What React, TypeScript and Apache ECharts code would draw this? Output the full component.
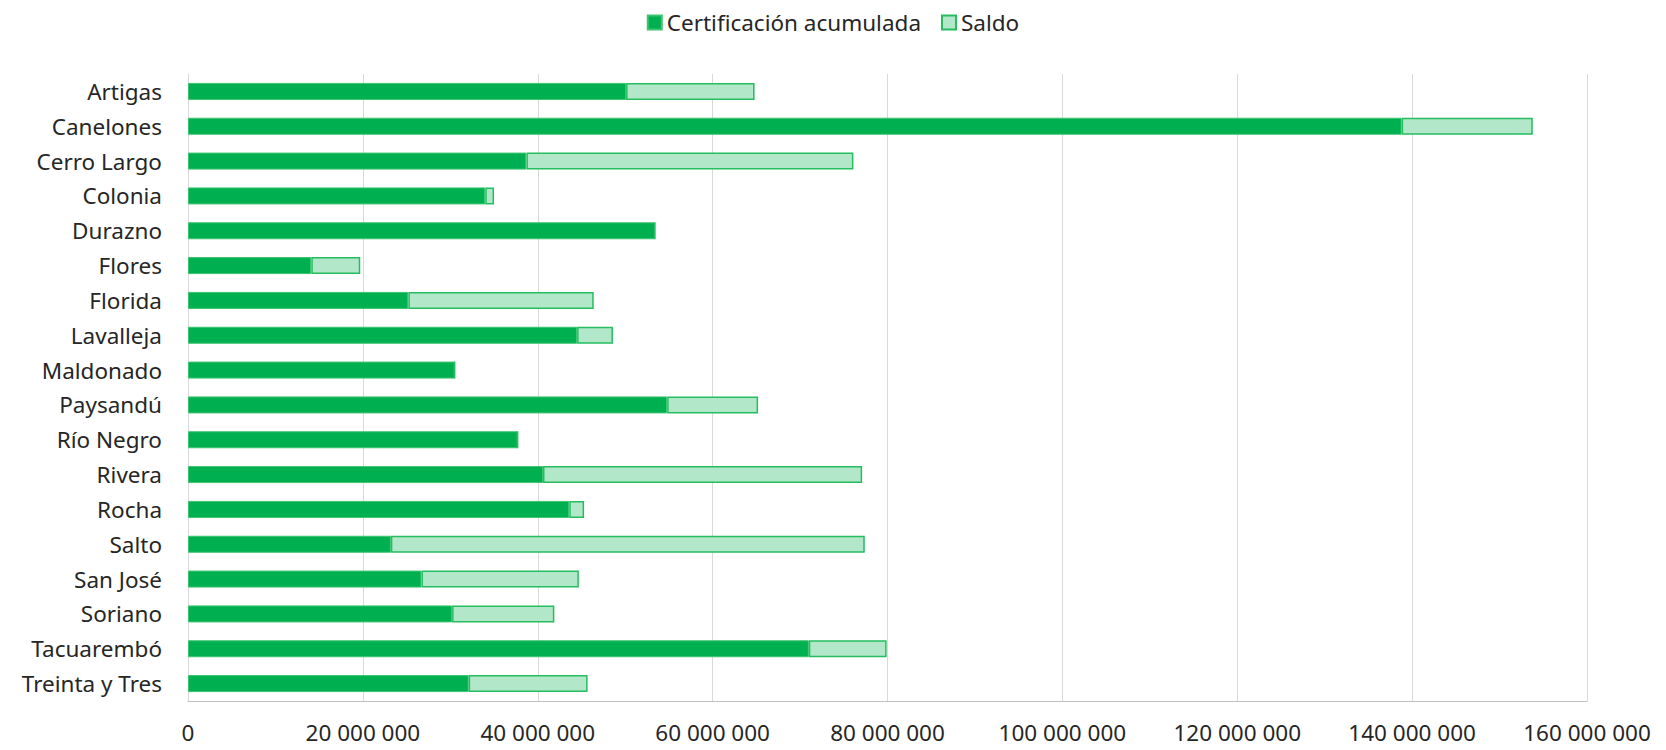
import React, { useEffect, useRef } from "react";
import * as echarts from "echarts";

const categories = [
  "Artigas", "Canelones", "Cerro Largo", "Colonia", "Durazno", "Flores", "Florida",
  "Lavalleja", "Maldonado", "Paysandú", "Río Negro", "Rivera", "Rocha", "Salto",
  "San José", "Soriano", "Tacuarembó", "Treinta y Tres",
];
const certificacion = [
  50100000, 138800000, 38700000, 34000000, 53400000, 14100000, 25200000,
  44500000, 30500000, 54800000, 37700000, 40600000, 43600000, 23200000,
  26700000, 30200000, 71000000, 32100000,
];
const saldo = [
  14700000, 15000000, 37400000, 1000000, 0, 5600000, 21200000,
  4100000, 0, 10400000, 0, 36500000, 1700000, 54200000,
  18000000, 11700000, 8900000, 13600000,
];
const xMax = 160000000;
const xInterval = 20000000;

const FONT = "Noto Sans";

function fmt(v: number): string {
  return String(Math.round(v)).replace(/\B(?=(\d{3})+(?!\d))/g, " ");
}

export default function App() {
  const ref = useRef<HTMLDivElement>(null);
  useEffect(() => {
    if (!ref.current) return;
    const chart = echarts.init(ref.current, undefined, { renderer: "svg" });
    chart.setOption({
      animation: false,
      backgroundColor: "#ffffff",
      textStyle: { fontFamily: FONT },
      legend: {
        top: 6,
        left: "center",
        icon: "rect",
        itemWidth: 14,
        itemHeight: 14,
        itemGap: 20,
        textStyle: { fontFamily: FONT, fontSize: 22.5, color: "#262626" },
        data: ["Certificación acumulada", "Saldo"],
      },
      grid: { left: 188, right: 79, top: 74, bottom: 49, containLabel: false },
      xAxis: {
        type: "value",
        min: 0,
        max: xMax,
        interval: xInterval,
        axisLine: { show: true, lineStyle: { color: "#BFBFBF", width: 1 } },
        axisTick: { show: false },
        splitLine: { show: true, lineStyle: { color: "#D9D9D9", width: 1 } },
        axisLabel: {
          margin: 20,
          fontFamily: FONT,
          fontSize: 22.5,
          color: "#262626",
          formatter: (v: number) => fmt(v),
        },
      },
      yAxis: {
        type: "category",
        data: categories,
        inverse: true,
        axisLine: { show: true, lineStyle: { color: "#D9D9D9", width: 1 } },
        axisTick: { show: false },
        axisLabel: { margin: 26, fontFamily: FONT, fontSize: 22.5, color: "#262626" },
      },
      series: [
        {
          name: "Certificación acumulada",
          type: "bar",
          stack: "total",
          barWidth: 17,
          data: certificacion,
          itemStyle: { color: "#00B050", borderColor: "#3CC470", borderWidth: 1 },
        },
        {
          name: "Saldo",
          type: "bar",
          stack: "total",
          barWidth: 17,
          data: saldo,
          itemStyle: { color: "#B3E7C9", borderColor: "#25BD60", borderWidth: 1.5 },
        },
      ],
    });
    return () => chart.dispose();
  }, []);
  return (
    <div
      ref={ref}
      style={{ position: "fixed", left: 0, top: 0, width: 1666, height: 750 }}
    />
  );
}
